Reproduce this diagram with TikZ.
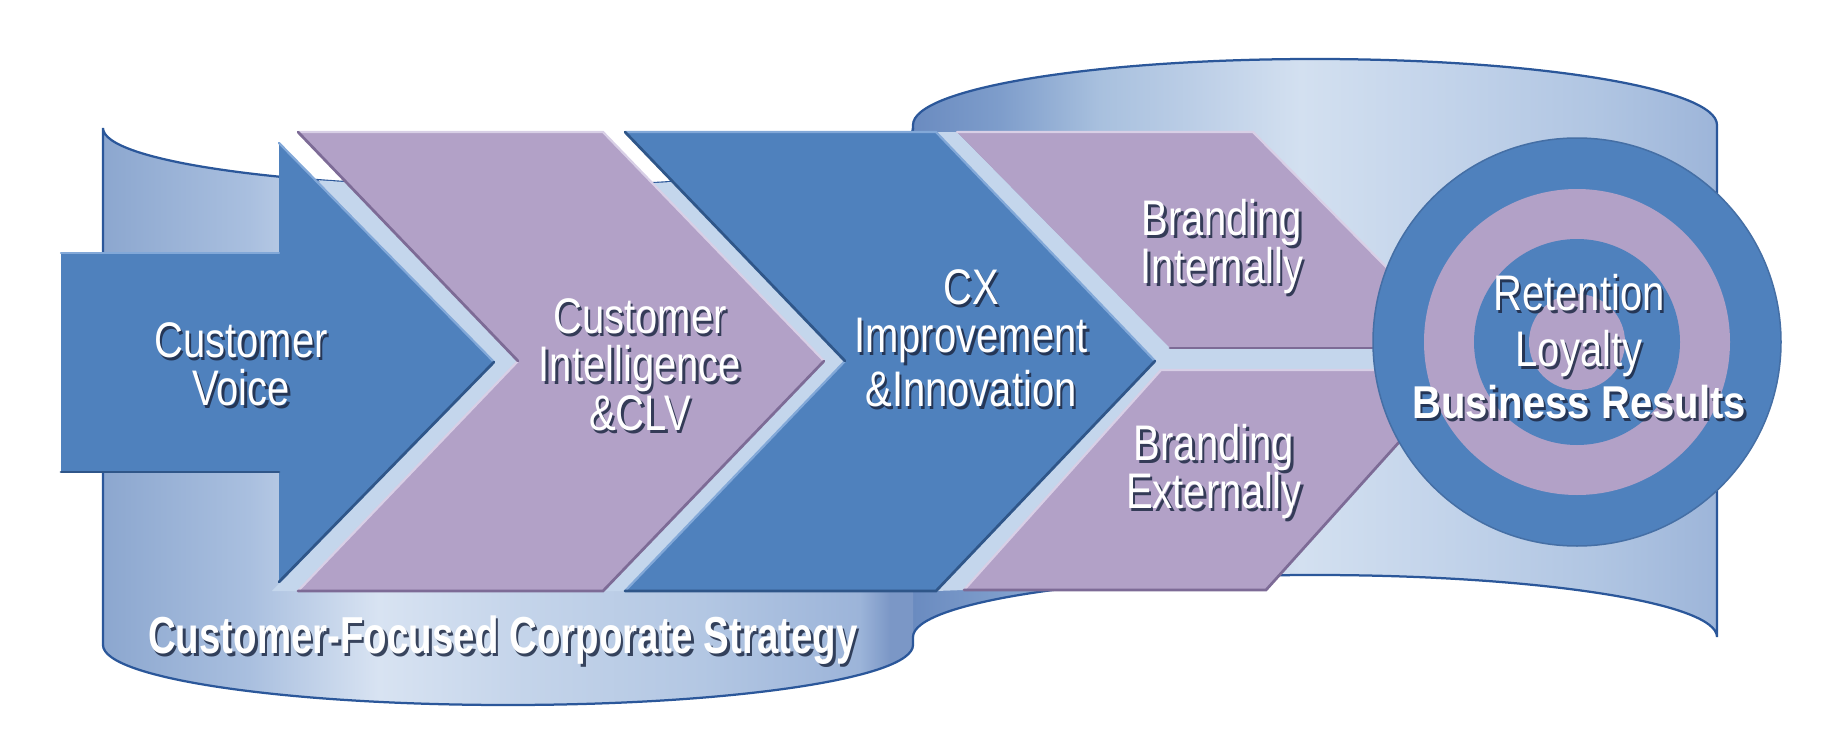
\documentclass[tikz,border=0pt]{standalone}
\usepackage{fontspec}
\newfontfamily\lblfont{Liberation Sans}[FakeStretch=0.8]
\newfontfamily\ttlfont{Liberation Sans}[FakeStretch=0.74]
\newfontfamily\resfont{Liberation Sans}[FakeStretch=0.87]
\definecolor{lr1}{HTML}{8CA7CF}
\definecolor{lr2}{HTML}{A9BFDF}
\definecolor{lr3}{HTML}{D8E3F2}
\definecolor{lr4}{HTML}{C4D4EA}
\definecolor{lr5}{HTML}{B3C7E3}
\definecolor{lr6}{HTML}{9CB4D9}
\definecolor{lr7}{HTML}{7B97C6}
\definecolor{rr1}{HTML}{6A8BC0}
\definecolor{rr2}{HTML}{7E9DCB}
\definecolor{rr3}{HTML}{A8C0DE}
\definecolor{rr4}{HTML}{BDCFE7}
\definecolor{rr5}{HTML}{D3E0F0}
\definecolor{rr6}{HTML}{C2D3EA}
\definecolor{rr7}{HTML}{B0C5E2}
\definecolor{rr8}{HTML}{9DB5D9}
\definecolor{ribline}{HTML}{2B579A}
\definecolor{blueF}{HTML}{4F81BD}
\definecolor{blueD}{HTML}{2F5689}
\definecolor{blueE}{HTML}{456FA5}
\definecolor{blueL}{HTML}{82A8D8}
\definecolor{purF}{HTML}{B2A1C7}
\definecolor{purD}{HTML}{7D6B96}
\definecolor{purL}{HTML}{D8CFE6}
\definecolor{gapc}{HTML}{C4D6EC}
\definecolor{shadowc}{HTML}{1E2A44}
\pgfdeclarehorizontalshading{leftrib}{100bp}{color(0bp)=(lr1); color(25bp)=(lr1); color(34bp)=(lr2); color(42bp)=(lr3); color(51bp)=(lr4); color(62bp)=(lr5); color(71.7bp)=(lr6); color(73.6bp)=(lr7); color(75bp)=(lr7); color(100bp)=(lr7)}
\pgfdeclarehorizontalshading{rightrib}{100bp}{color(0bp)=(rr1); color(25bp)=(rr1); color(30.4bp)=(rr2); color(36.6bp)=(rr3); color(42.8bp)=(rr4); color(49.1bp)=(rr5); color(58.4bp)=(rr6); color(67.7bp)=(rr7); color(75bp)=(rr8); color(100bp)=(rr8)}
% a block of centred lines with a fixed baseline distance; its baseline is the first line's
\newcommand{\txtlines}[2]{\vtop{\baselineskip=#1\lineskiplimit=-50pt\lineskip=0pt\halign{\hfil##\hfil\cr #2\crcr}}}
\newcommand{\stxt}[5]{%
  \node[#4, text=shadowc, opacity=0.85, anchor=base] at ({#2+2.5},{#3+3}) {#5};
  \node[#4, text=white, anchor=base] (#1) at (#2,#3) {#5};}
\begin{document}
\begin{tikzpicture}[x=0.4pt,y=-0.4pt,
  lbl/.style={font=\lblfont\fontsize{20}{20}\selectfont, inner sep=0pt},
  ttl/.style={font=\ttlfont\bfseries\fontsize{20.8}{20.8}\selectfont, inner sep=0pt},
  res/.style={font=\resfont\bfseries\fontsize{18.4}{18.4}\selectfont, inner sep=0pt},
  ribedge/.style={draw=ribline, line width=0.9pt},
  bshape/.style={fill=blueF},
  pshape/.style={fill=purF},
  bdk/.style={draw=blueD, line width=1.1pt, line cap=round},
  blt/.style={draw=blueL, line width=0.9pt, line cap=round},
  pdk/.style={draw=purD, line width=1.1pt, line cap=round},
  plt/.style={draw=purL, line width=0.9pt, line cap=round}]
\useasboundingbox (0,0) rectangle (1848,753);
% ribbons
\path[shading=rightrib] (913,637) -- (913,125) arc[start angle=180,end angle=360,x radius=402,y radius=66] -- (1717,125) -- (1717,637) arc[start angle=0,end angle=-180,x radius=402,y radius=62] -- cycle;
\path[shading=leftrib] (103,128) arc[start angle=180,end angle=0,x radius=405,y radius=59] -- (913,645) arc[start angle=0,end angle=180,x radius=405,y radius=60] -- cycle;
\draw[ribedge] (103,645) -- (103,128) arc[start angle=180,end angle=0,x radius=405,y radius=59];
\draw[ribedge] (913,637) -- (913,645) arc[start angle=0,end angle=180,x radius=405,y radius=60];
\draw[ribedge] (913,140) -- (913,125) arc[start angle=180,end angle=360,x radius=402,y radius=66] -- (1717,637) arc[start angle=0,end angle=-180,x radius=402,y radius=62];
% light gaps on the ribbon
\begin{scope}
\clip (103,128) arc[start angle=180,end angle=0,x radius=405,y radius=59] -- (913,645) arc[start angle=0,end angle=180,x radius=405,y radius=60] -- cycle
      (913,637) -- (913,125) arc[start angle=180,end angle=360,x radius=402,y radius=66] -- (1717,637) arc[start angle=0,end angle=-180,x radius=402,y radius=62] -- cycle;
\fill[gapc] (272,132) -- (298,132) -- (518,361) -- (298,591) -- (272,591) -- (494,362) -- cycle;
\fill[gapc] (603,132) -- (625,132) -- (845,361) -- (625,591) -- (603,591) -- (824,361) -- cycle;
\fill[gapc] (936,132) -- (957,132) -- (1170,348) -- (1480,348) -- (1480,370) -- (1161,370) -- (964,590) -- (936,591) -- (1155,361) -- cycle;
\end{scope}
% arrow: Customer Voice
\fill[bshape] (61,253) -- (279,253) -- (279,143) -- (494,362) -- (279,582) -- (279,472) -- (61,472) -- cycle;
\draw[blt] (61,253) -- (279,253);
\draw[blt] (279,143) -- (494,362);
\draw[bdk] (494,362) -- (279,582);
\draw[bdk] (279,472) -- (61,472);
% chevron: Customer Intelligence
\fill[pshape] (298,132) -- (603,132) -- (824,361) -- (603,591) -- (298,591) -- (518,361) -- cycle;
\draw[plt] (298,132) -- (603,132) -- (824,361);
\draw[plt] (518,361) -- (298,591);
\draw[pdk] (298,132) -- (518,361);
\draw[pdk] (824,361) -- (603,591) -- (298,591);
% chevron: CX
\fill[bshape] (625,132) -- (936,132) -- (1155,361) -- (936,591) -- (625,591) -- (845,361) -- cycle;
\draw[blt] (625,132) -- (936,132) -- (1155,361);
\draw[blt] (845,361) -- (625,591);
\draw[bdk] (625,132) -- (845,361);
\draw[bdk] (1155,361) -- (936,591) -- (625,591);
% Branding Internally / Externally
\fill[pshape] (957,132) -- (1253,132) -- (1466,348) -- (1170,348) -- cycle;
\draw[plt] (957,132) -- (1253,132) -- (1466,348);
\draw[pdk] (1170,348) -- (1466,348);
\fill[pshape] (1161,370) -- (1464,370) -- (1266,590) -- (964,590) -- cycle;
\draw[plt] (964,590) -- (1161,370) -- (1464,370);
\draw[pdk] (1464,370) -- (1266,590) -- (964,590);
% target
\fill[blueF, draw=blueE, line width=0.6pt] (1577,342) circle[radius=204];
\fill[purF] (1577,342) circle[radius=153];
\fill[blueF] (1577,342) circle[radius=103];
\fill[purF] (1577,342) circle[radius=48];
% texts
\stxt{cv}{241}{357}{lbl}{\txtlines{19.2pt}{Customer\cr Voice}}
\stxt{ci}{640}{333}{lbl}{\txtlines{19.4pt}{Customer\cr Intelligence\cr \&CLV}}
\stxt{cx}{971}{304}{lbl}{\txtlines{19.4pt}{CX\cr Improvement\cr\noalign{\kern2pt} \&Innovation}}
\stxt{bi}{1222}{235}{lbl}{\txtlines{19.4pt}{Branding\cr Internally}}
\stxt{be}{1214}{460}{lbl}{\txtlines{19.4pt}{Branding\cr Externally}}
\stxt{rl}{1579}{310}{lbl}{\txtlines{22.4pt}{Retention\cr Loyalty}}
\stxt{br}{1579}{418}{res}{Business Results}
\stxt{cfs}{503}{653}{ttl}{Customer-Focused Corporate Strategy}
\end{tikzpicture}
\end{document}
